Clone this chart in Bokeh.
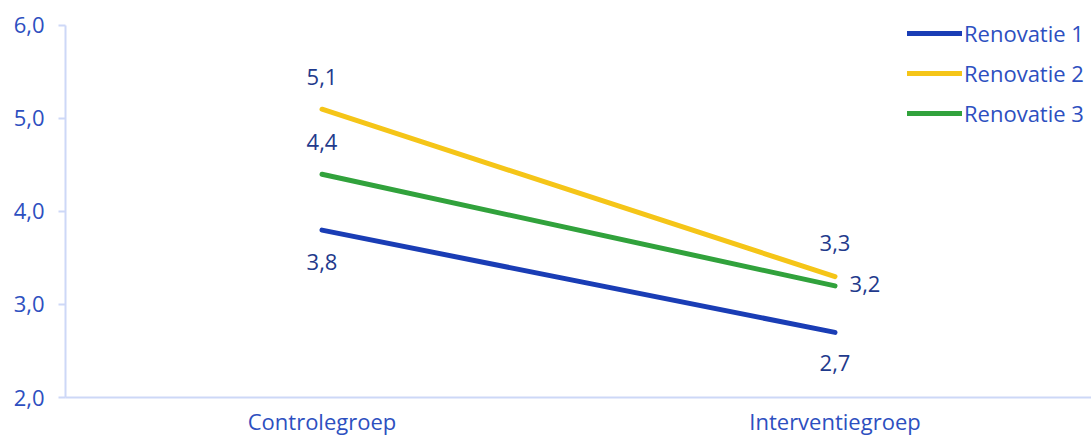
from bokeh.plotting import figure
from bokeh.models import (ColumnDataSource, Range1d, FixedTicker, CustomJSTickFormatter,
                          Legend, LegendItem, LabelSet)
from bokeh.core.properties import value
from bokeh.embed import file_html
from bokeh.resources import INLINE

# Data
groups = ["Controlegroep", "Interventiegroep"]
series_names = ["Renovatie 1", "Renovatie 2", "Renovatie 3"]
renovatie_1 = [3.8, 2.7]
renovatie_2 = [5.1, 3.3]
renovatie_3 = [4.4, 3.2]
y_ticks = [2.0, 3.0, 4.0, 5.0, 6.0]

colors = ["#1a3db5", "#f5c518", "#31a23c"]
axis_color = "#cdd8f7"
tick_text = "#2d4fc0"
value_text = "#1f3a8c"
font = "Open Sans"
fsize = "22px"

# A little headroom above 6,0 so the legend's first row is not clipped;
# the axis line itself stops at 6,0.
p = figure(width=1091, height=439, x_range=groups, y_range=Range1d(2.0, 6.215),
           output_backend="svg", toolbar_location=None,
           min_border_left=65, min_border_right=0, min_border_top=5, min_border_bottom=42)
p.outline_line_color = None
p.grid.grid_line_color = None
p.background_fill_color = "white"
p.border_fill_color = "white"

# Axes
p.yaxis.bounds = (2.0, 6.0)
p.yaxis.ticker = FixedTicker(ticks=y_ticks)
p.yaxis.formatter = CustomJSTickFormatter(code="return tick.toFixed(1).replace('.', ',');")
p.yaxis.axis_line_color = axis_color
p.yaxis.axis_line_width = 2
p.yaxis.major_tick_line_color = axis_color
p.yaxis.major_tick_line_width = 2
p.yaxis.major_tick_out = 7
p.yaxis.major_tick_in = 0
p.yaxis.minor_tick_line_color = None
p.yaxis.major_label_text_color = tick_text
p.yaxis.major_label_text_font = font
p.yaxis.major_label_text_font_size = fsize
p.yaxis.major_label_standoff = 14

p.xaxis.axis_line_color = axis_color
p.xaxis.axis_line_width = 2
p.xaxis.major_tick_line_color = None
p.xaxis.minor_tick_line_color = None
p.xaxis.major_label_text_color = tick_text
p.xaxis.major_label_text_font = font
p.xaxis.major_label_text_font_size = fsize
p.xaxis.major_label_standoff = 2

# Lines
renderers = []
for name, vals, col in zip(series_names, [renovatie_1, renovatie_2, renovatie_3], colors):
    src = ColumnDataSource(dict(x=groups, y=vals))
    r = p.line("x", "y", source=src, line_color=col, line_width=5, line_cap="round")
    renderers.append(r)

# Value labels
def add_labels(xs, ys, x_off, y_off):
    src = ColumnDataSource(dict(x=xs, y=ys, t=[f"{v:.1f}".replace(".", ",") for v in ys]))
    p.add_layout(LabelSet(x="x", y="y", text="t", source=src, x_offset=x_off, y_offset=y_off,
                          text_align="center", text_baseline="middle", text_color=value_text,
                          text_font=value(font), text_font_size=fsize))

add_labels([groups[0], groups[0]], [renovatie_2[0], renovatie_3[0]], 0, 32)
add_labels([groups[0]], [renovatie_1[0]], 0, -32)
add_labels([groups[1]], [renovatie_2[1]], 0, 34)
add_labels([groups[1]], [renovatie_3[1]], 30, 2)
add_labels([groups[1]], [renovatie_1[1]], 0, -31)

legend = Legend(items=[LegendItem(label=n, renderers=[r]) for n, r in zip(series_names, renderers)],
                location=(842, 269), orientation="vertical",
                glyph_width=55, glyph_height=24, label_height=24, label_standoff=2,
                spacing=10, padding=0, margin=0, border_line_color=None,
                background_fill_alpha=0, label_text_color=tick_text,
                label_text_font=font, label_text_font_size=fsize)
p.add_layout(legend)

open("out.html", "w").write(file_html(p, INLINE))
